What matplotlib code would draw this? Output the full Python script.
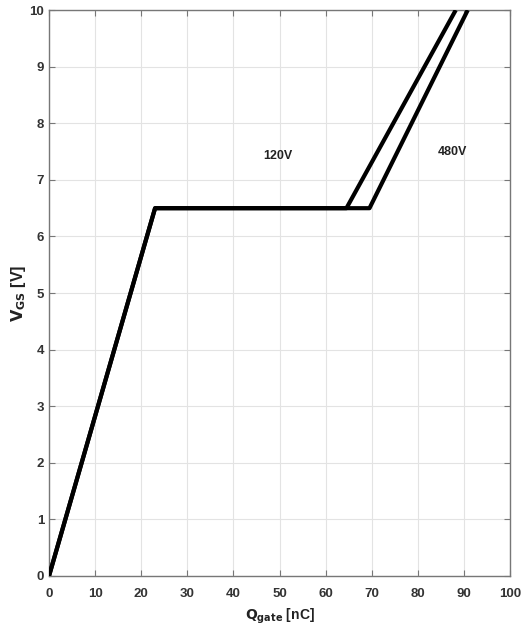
import matplotlib
matplotlib.use("Agg")
import matplotlib.pyplot as plt

plt.rcParams['font.family'] = ['Liberation Sans', 'DejaVu Sans']

q_120 = [0, 23, 64.5, 88.2]
v_120 = [0, 6.5, 6.5, 10]
q_480 = [0, 23, 69.5, 90.8]
v_480 = [0, 6.5, 6.5, 10]
xticks = list(range(0, 101, 10))
yticks = list(range(0, 11))

fig = plt.figure(figsize=(5.27, 6.34), dpi=100)
ax = fig.add_axes([0.093, 0.0915, 0.875, 0.8925])
ax.plot(q_120, v_120, color='black', lw=3.0, solid_capstyle='butt', zorder=3)
ax.plot(q_480, v_480, color='black', lw=3.0, solid_capstyle='butt', zorder=3)
ax.set_xlim(0, 100)
ax.set_ylim(0, 10)
ax.set_xticks(xticks)
ax.set_yticks(yticks)
ax.grid(True, color='#e3e3e3', lw=0.8)
ax.tick_params(direction='in', top=True, right=True, length=4, color='#777777',
               labelsize=9.5)
ax.tick_params(axis='x', pad=9)
ax.tick_params(axis='y', pad=3.5)
for lab in ax.get_xticklabels() + ax.get_yticklabels():
    lab.set_fontweight('bold')
    lab.set_color('#333333')
for s in ax.spines.values():
    s.set_color('#777777')
    s.set_linewidth(1.0)
ax.text(49.7, 7.42, '120V', fontsize=9, fontweight='bold', ha='center', va='center', color='#222222')
ax.text(87.5, 7.5, '480V', fontsize=9, fontweight='bold', ha='center', va='center', color='#222222')
ax.set_xlabel(r'$\mathbf{Q_{gate}}$ [nC]', fontsize=10, fontweight='bold', color='#222222')
ax.set_ylabel(r'$\mathbf{V_{GS}}$ [V]', fontsize=11.5, fontweight='bold', color='#222222')
ax.xaxis.set_label_coords(0.5, -0.055)
ax.yaxis.set_label_coords(-0.046, 0.5)
fig.savefig('out.png', dpi=100)
